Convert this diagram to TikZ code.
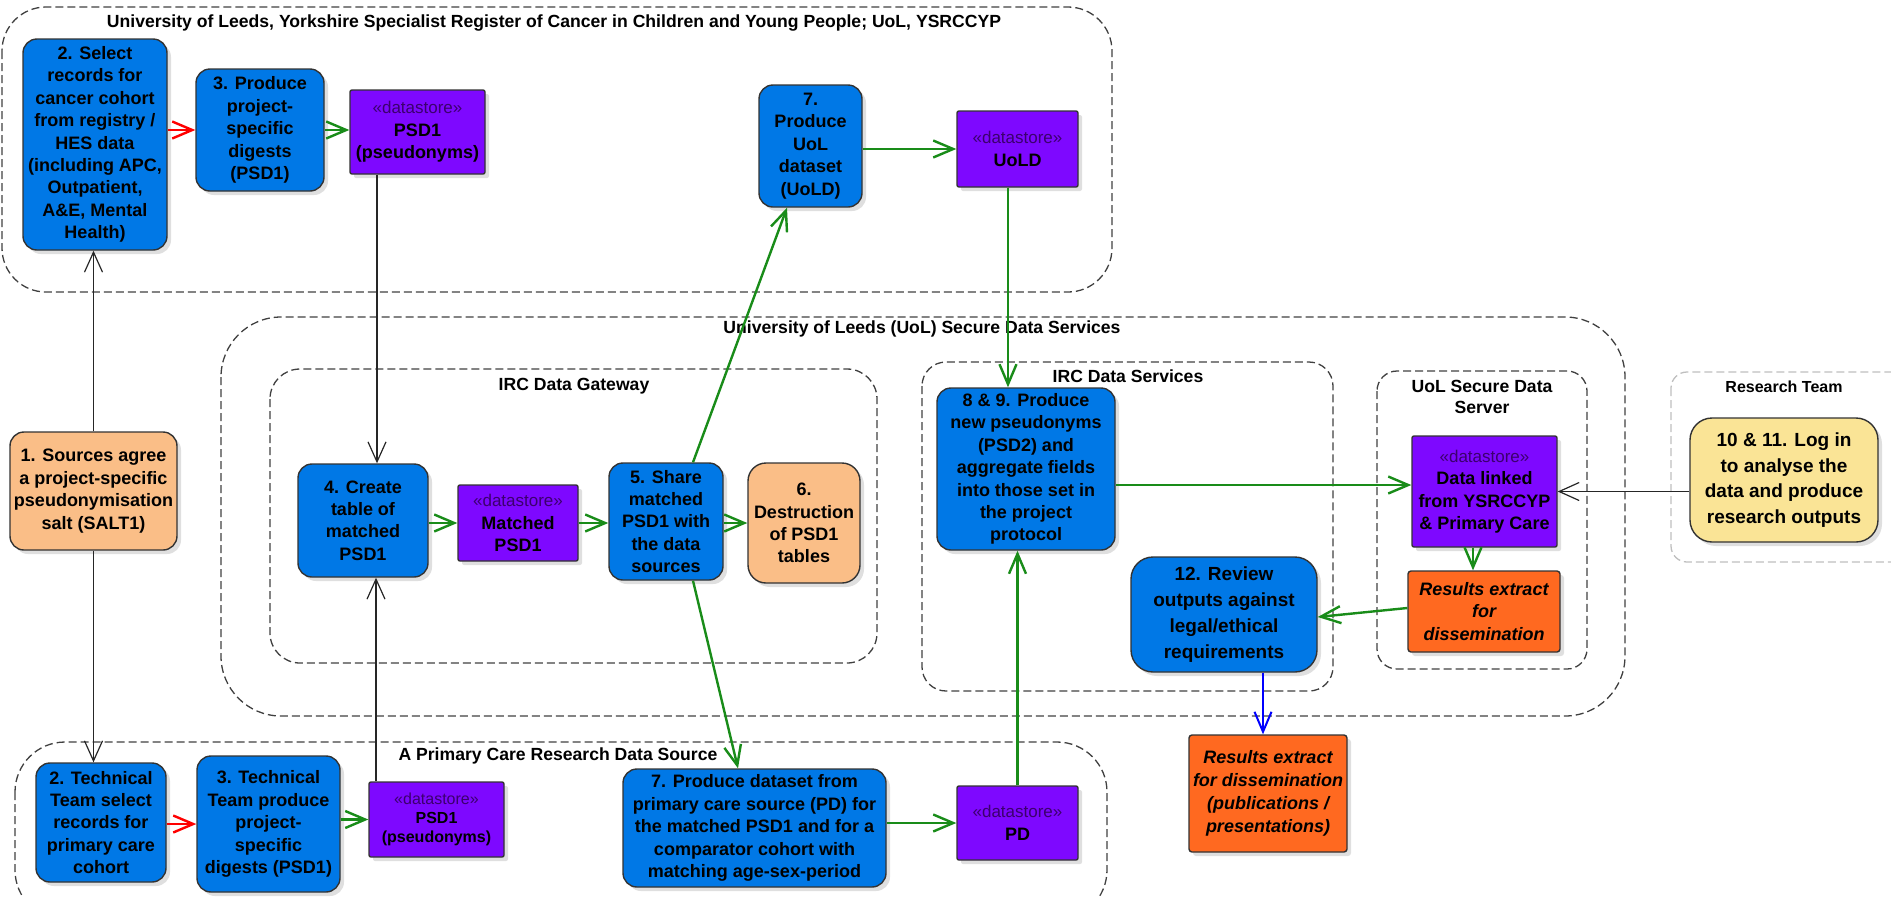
\documentclass[tikz,border=0pt]{standalone}
\usepackage{fontspec}
\setmainfont{Liberation Sans}
\usepackage{tikz}
\usetikzlibrary{arrows.meta, shadows}
\definecolor{procblue}{RGB}{0,120,230}
\definecolor{storepurple}{RGB}{126,8,255}
\definecolor{storeink}{RGB}{60,0,110}
\definecolor{paleorange}{RGB}{250,190,135}
\definecolor{hotorange}{RGB}{255,105,32}
\definecolor{softyellow}{RGB}{250,228,150}
\definecolor{flowgreen}{RGB}{25,140,25}
\newcommand{\dstore}{{\fontsize{8.5}{11.2}\selectfont\mdseries\color{storeink}«datastore»}}
\tikzset{
    x=0.5pt, y=-0.5pt, % one unit is one pixel of the reference, y pointing down
    >={Straight Barb[length=10pt,width=8.5pt]}, % open v-shaped heads
    proc/.style={draw=black!80, line width=0.7pt, fill=procblue, rounded corners=7pt,
        align=center, inner sep=1pt, font=\fontsize{9}{11.2}\selectfont\bfseries,
        drop shadow={shadow xshift=2pt, shadow yshift=-2pt, opacity=0.25}}, % activity boxes
    store/.style={proc, fill=storepurple, rounded corners=1pt}, % datastore boxes
    agree/.style={proc, fill=paleorange, rounded corners=9pt}, % agreements / destruction
    extract/.style={proc, fill=hotorange, rounded corners=1.5pt,
        font=\fontsize{9}{11.4}\selectfont\bfseries\itshape}, % outputs
    team/.style={proc, fill=softyellow, rounded corners=11pt}, % research team
    lane/.style={draw=black!75, line width=0.65pt, dash pattern=on 4pt off 2pt}, % dashed boundaries
    lanetitle/.style={font=\fontsize{8.8}{10.5}\selectfont\bfseries, align=center, inner sep=0pt, anchor=base},
    flow/.style={->, draw=flowgreen, line width=1.2pt}, % data flows
    sortflow/.style={->, draw=red, line width=1.2pt},
    outflow/.style={->, draw=blue, line width=1pt},
    keyflow/.style={->, draw=black!85, line width=0.6pt, >={Straight Barb[length=10pt,width=9pt]}},
}

\begin{document}
\begin{tikzpicture}
    \useasboundingbox (0,0) rectangle (1891,896);
    \clip (0,0) rectangle (1891,896);

    % boundaries
    \draw[lane, rounded corners=22pt] (2,7) rectangle (1112,292);
    \node[lanetitle] (tYS) at (554,27) {University of Leeds, Yorkshire Specialist Register of Cancer in Children and Young People; UoL, YSRCCYP};
    \draw[lane, rounded corners=30pt] (221,317) rectangle (1625,716);
    \node[lanetitle] (tSDS) at (922,333) {University of Leeds (UoL) Secure Data Services};
    \draw[lane, rounded corners=15pt] (270,369) rectangle (877,663);
    \node[lanetitle] (tGW) at (574,390) {IRC Data Gateway};
    \draw[lane, rounded corners=12pt] (922,362) rectangle (1333,691);
    \node[lanetitle] (tIRS) at (1128,382) {IRC Data Services};
    \draw[lane, rounded corners=10pt] (1377,371) rectangle (1587,669);
    \node[lanetitle] (tSrv) at (1482,413) {UoL Secure Data\\Server};
    \draw[lane, draw=black!25, rounded corners=8pt] (1671,372) rectangle (1910,562);
    \node[lanetitle, font=\fontsize{8}{10}\selectfont\bfseries] (tRT) at (1784,392) {Research Team};
    \draw[lane, rounded corners=25pt] (15,742) rectangle (1107,920);
    \node[lanetitle] (tPC) at (558,760) {A Primary Care Research Data Source};

    % registry side
    \node[proc, minimum width=72pt, minimum height=105.5pt] (Sel) at (95,144.5) {2. Select\\records for\\cancer cohort\\from registry /\\HES data\\(including APC,\\Outpatient,\\A\&E, Mental\\Health)};
    \node[proc, minimum width=64pt, minimum height=61pt] (Dig) at (260,130) {3. Produce\\project-\\specific\\digests\\(PSD1)};
    \node[store, minimum width=67.5pt, minimum height=42pt] (PsdA) at (417.5,132) {\dstore\\PSD1\\(pseudonyms)};
    \node[proc, minimum width=51.5pt, minimum height=61pt] (UoL) at (810.5,146) {7.\\Produce\\UoL\\dataset\\(UoLD)};
    \node[store, minimum width=60.5pt, minimum height=38pt] (UoLD) at (1017.5,149) {\dstore\\UoLD};

    % salt
    \node[agree, minimum width=83.5pt, minimum height=59pt, rounded corners=7pt] (Salt) at (93.5,491) {1. Sources agree\\a project-specific\\pseudonymisation\\salt (SALT1)};

    % gateway
    \node[proc, minimum width=65pt, minimum height=56.5pt] (Tab) at (363,520.5) {4. Create\\table of\\matched\\PSD1};
    \node[store, minimum width=60pt, minimum height=38pt] (Mat) at (518,523) {\dstore\\Matched\\PSD1};
    \node[proc, minimum width=57pt, minimum height=58.5pt] (Shr) at (666,521.5) {5. Share\\matched\\PSD1 with\\the data\\sources};
    \node[agree, minimum width=56pt, minimum height=60pt] (Des) at (804,523) {6.\\Destruction\\of PSD1\\tables};

    % data services
    \node[proc, minimum width=89pt, minimum height=81pt] (Psd2) at (1026,469) {8 \& 9. Produce\\new pseudonyms\\(PSD2) and\\aggregate fields\\into those set in\\the project\\protocol};
    \node[proc, minimum width=93pt, minimum height=57.5pt, rounded corners=11pt, font=\fontsize{9.5}{13}\selectfont\bfseries] (Rev) at (1224,614.5) {12. Review\\outputs against\\legal/ethical\\requirements};
    \node[store, minimum width=72.5pt, minimum height=55.5pt] (Lnk) at (1484.5,491.5) {\dstore\\Data linked\\from YSRCCYP\\\& Primary Care};
    \node[extract, minimum width=76pt, minimum height=40.5pt] (ResA) at (1484,611.5) {Results extract\\for\\dissemination};
    \node[team, minimum width=94pt, minimum height=62pt, font=\fontsize{9.5}{12.8}\selectfont\bfseries] (Log) at (1784,480) {10 \& 11. Log in\\to analyse the\\data and produce\\research outputs};
    \node[extract, minimum width=79pt, minimum height=58.5pt] (ResB) at (1268,793.5) {Results extract\\for dissemination\\(publications /\\presentations)};

    % primary care side
    \node[proc, minimum width=65pt, minimum height=59.5pt] (TSel) at (101,822.5) {2. Technical\\Team select\\records for\\primary care\\cohort};
    \node[proc, minimum width=71.5pt, minimum height=68pt] (TDig) at (268.5,824) {3. Technical\\Team produce\\project-\\specific\\digests (PSD1)};
    \node[store, minimum width=67.5pt, minimum height=37.5pt, font=\fontsize{8}{9.5}\selectfont\bfseries] (PsdB) at (436.5,819.5) {{\mdseries\color{storeink}«datastore»}\\PSD1\\(pseudonyms)};
    \node[proc, minimum width=131.5pt, minimum height=59pt] (PC) at (754.5,828) {7. Produce dataset from\\primary care source (PD) for\\the matched PSD1 and for a\\comparator cohort with\\matching age-sex-period};
    \node[store, minimum width=60.5pt, minimum height=37pt] (PD) at (1017.5,823) {\dstore\\PD};

    % salt and digests
    \draw[keyflow] (Salt.north) -- (Salt.north |- Sel.south);
    \draw[keyflow] (Salt.south) -- (Salt.south |- TSel.north);
    \draw[keyflow] ([xshift=7pt]Tab.north |- PsdA.south) -- ([xshift=7pt]Tab.north);
    \draw[keyflow] ([xshift=6.5pt]Tab.south |- PsdB.north) -- ([xshift=6.5pt]Tab.south);
    \draw[keyflow] (Log.west |- Lnk.east) -- (Lnk.east);

    % selections
    \draw[sortflow] (Sel.east |- Dig.west) -- (Dig.west);
    \draw[sortflow] (TSel.east |- TDig.west) -- (TDig.west);

    % data flows
    \draw[flow] (Dig.east) -- (Dig.east -| PsdA.west);
    \draw[flow] (TDig.east |- PsdB.west) -- (PsdB.west);
    \draw[flow] (Tab.east |- Mat.west) -- (Mat.west);
    \draw[flow] (Mat.east) -- (Mat.east -| Shr.west);
    \draw[flow] (Shr.east |- Des.west) -- (Des.west);
    \draw[flow] ([xshift=13.5pt]Shr.north) -- ([xshift=-11.75pt]UoL.south);
    \draw[flow] ([xshift=13.5pt]Shr.south) -- ([xshift=-8.25pt]PC.north);
    \draw[flow] (UoL.east |- UoLD.west) -- (UoLD.west);
    \draw[flow] (PC.east |- PD.west) -- (PD.west);
    \draw[flow] ([xshift=-4.75pt]UoLD.south) -- ([xshift=-4.75pt]UoLD.south |- Psd2.north);
    \draw[flow] (PD.north) -- (PD.north |- Psd2.south);
    \draw[flow] ([yshift=-8pt]Psd2.east) -- ([yshift=-8pt]Psd2.east -| Lnk.west);
    \draw[flow] ([xshift=-5.75pt]Lnk.south) -- ([xshift=-5.75pt]Lnk.south |- ResA.north);
    \draw[flow] ([yshift=1.75pt]ResA.west) -- ([yshift=-1.25pt]Rev.east);
    \draw[outflow] ([xshift=19.5pt]Rev.south) -- ([xshift=19.5pt]Rev.south |- ResB.north);
\end{tikzpicture}
\end{document}
